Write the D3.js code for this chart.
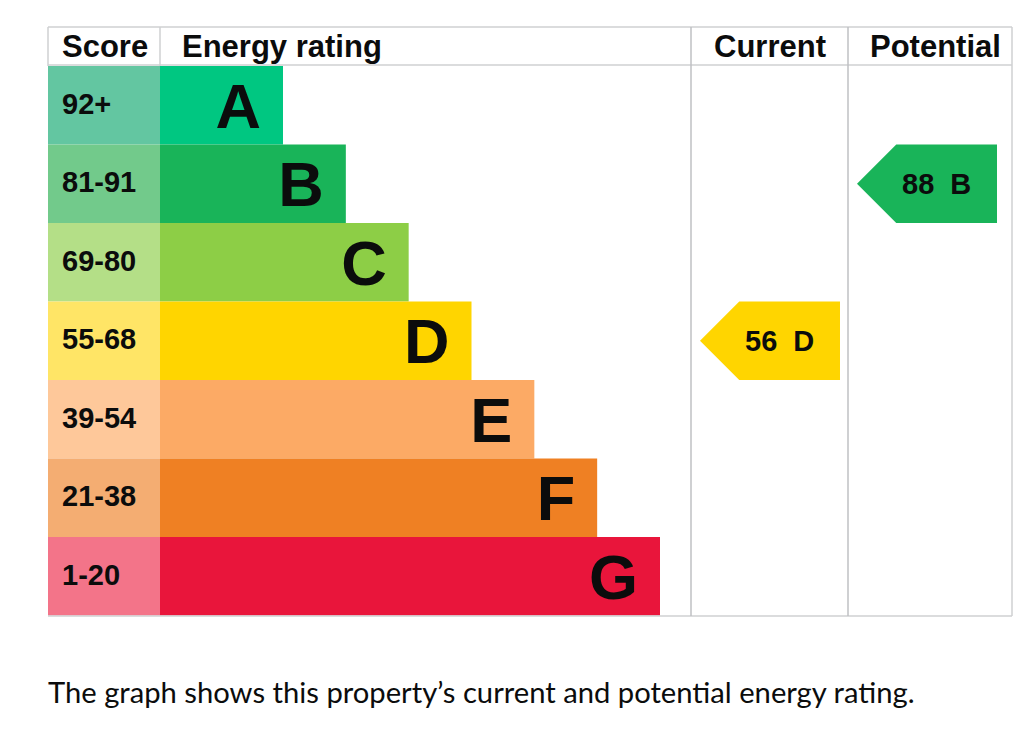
<!DOCTYPE html>
<html>
<head>
<meta charset="utf-8">
<script src="https://cdn.jsdelivr.net/npm/d3@7/dist/d3.min.js"></script>
<style>
  html, body { margin: 0; padding: 0; background: #fff; }
  svg { display: block; }
</style>
</head>
<body>
<svg id="chart" width="1024" height="734"></svg>
<script>
// ---- data ----
const ratings = ["A", "B", "C", "D", "E", "F", "G"];
const scoreRanges = ["92+", "81-91", "69-80", "55-68", "39-54", "21-38", "1-20"];
const barLevels = [1, 2, 3, 4, 5, 6, 7];
const bandColors = ["#00c781", "#19b459", "#8dce46", "#ffd500", "#fcaa65", "#ef8023", "#e9153b"];
const scoreColors = ["#63c6a1", "#72ca8b", "#b4df87", "#ffe566", "#fec89a", "#f4ad72", "#f37489"];
const headers = ["Score", "Energy rating", "Current", "Potential"];
const currentScore = 56, currentRating = "D";
const potentialScore = 88, potentialRating = "B";
const caption = "The graph shows this property\u2019s current and potential energy rating.";

// ---- layout ----
const svg = d3.select("#chart");
const colEdges = [48, 160, 691, 848, 1012];
const tableTop = 27, headBottom = 66, tableBottom = 616;
const lineColor = "#cfd1d2";
const font = "'Liberation Sans', Arial, sans-serif";

const y = d3.scaleBand().domain(ratings).range([headBottom, 615.5]).padding(0);
const x = d3.scaleLinear().domain([1, 7]).range([283, 660]);

const rows = ratings.map((r, i) => ({
  rating: r, range: scoreRanges[i], level: barLevels[i],
  color: bandColors[i], scoreColor: scoreColors[i]
}));

// score cells
svg.selectAll("rect.score").data(rows).join("rect")
  .attr("class", "score")
  .attr("x", colEdges[0]).attr("y", d => y(d.rating))
  .attr("width", colEdges[1] - colEdges[0]).attr("height", y.bandwidth())
  .attr("fill", d => d.scoreColor);

// bars
svg.selectAll("rect.bar").data(rows).join("rect")
  .attr("class", "bar")
  .attr("x", colEdges[1]).attr("y", d => y(d.rating))
  .attr("width", d => x(d.level) - colEdges[1]).attr("height", y.bandwidth())
  .attr("fill", d => d.color);

// score labels
svg.selectAll("text.range").data(rows).join("text")
  .attr("class", "range")
  .attr("x", 62).attr("y", d => y(d.rating) + y.bandwidth() / 2 + 8.5)
  .attr("font-family", font).attr("font-weight", "bold").attr("font-size", 29)
  .attr("fill", "#0b0c0c")
  .text(d => d.range);

// letters
svg.selectAll("text.letter").data(rows).join("text")
  .attr("class", "letter")
  .attr("x", d => x(d.level) - 22).attr("y", d => y(d.rating) + y.bandwidth() / 2 + 22.5)
  .attr("text-anchor", "end")
  .attr("font-family", font).attr("font-weight", "bold").attr("font-size", 63)
  .attr("fill", "#0b0c0c")
  .text(d => d.rating);

// grid lines
const g = svg.append("g").attr("stroke", lineColor).attr("stroke-width", 1.5).attr("fill", "none");
g.append("line").attr("x1", colEdges[0]).attr("x2", colEdges[4]).attr("y1", tableTop).attr("y2", tableTop);
g.append("line").attr("x1", colEdges[0]).attr("x2", colEdges[4]).attr("y1", headBottom - 1).attr("y2", headBottom - 1);
g.append("line").attr("x1", colEdges[0]).attr("x2", colEdges[4]).attr("y1", tableBottom).attr("y2", tableBottom);
g.append("line").attr("x1", colEdges[0]).attr("x2", colEdges[0]).attr("y1", tableTop).attr("y2", headBottom);
g.append("line").attr("x1", colEdges[1]).attr("x2", colEdges[1]).attr("y1", tableTop).attr("y2", headBottom);
[2, 3, 4].forEach(i => {
  g.append("line").attr("x1", colEdges[i]).attr("x2", colEdges[i])
    .attr("y1", tableTop).attr("y2", tableBottom)
    .attr("stroke", i === 4 ? lineColor : "#bfc1c3");
});

// headers
const headerX = [62, 182, 714, 870];
svg.selectAll("text.header").data(headers).join("text")
  .attr("class", "header")
  .attr("x", (d, i) => headerX[i]).attr("y", 57)
  .attr("font-family", font).attr("font-weight", "bold").attr("font-size", 31)
  .attr("fill", "#0b0c0c")
  .text(d => d);

// arrows
const arrows = [
  { score: currentScore, rating: currentRating, col: 2 },
  { score: potentialScore, rating: potentialRating, col: 3 }
];
const arrowW = 140;
const arrowG = svg.selectAll("g.arrow").data(arrows).join("g").attr("class", "arrow");
arrowG.append("path")
  .attr("d", d => {
    const x0 = colEdges[d.col] + 9, y0 = y(d.rating), h = y.bandwidth();
    const tip = h / 2;
    return `M${x0},${y0 + h / 2} L${x0 + tip},${y0} L${x0 + arrowW},${y0} L${x0 + arrowW},${y0 + h} L${x0 + tip},${y0 + h} Z`;
  })
  .attr("fill", d => bandColors[ratings.indexOf(d.rating)]);
arrowG.append("text")
  .attr("x", d => colEdges[d.col] + 9 + 45)
  .attr("y", d => y(d.rating) + y.bandwidth() / 2 + 10)
  .attr("font-family", font).attr("font-weight", "bold").attr("font-size", 29)
  .attr("fill", "#0b0c0c")
  .style("white-space", "pre")
  .text(d => `${d.score}  ${d.rating}`);

// caption
svg.append("text")
  .attr("x", 48).attr("y", 703)
  .attr("font-family", "Lato, 'Noto Sans', sans-serif").attr("font-size", 29.2)
  .attr("fill", "#0b0c0c")
  .text(caption);
</script>
</body>
</html>
